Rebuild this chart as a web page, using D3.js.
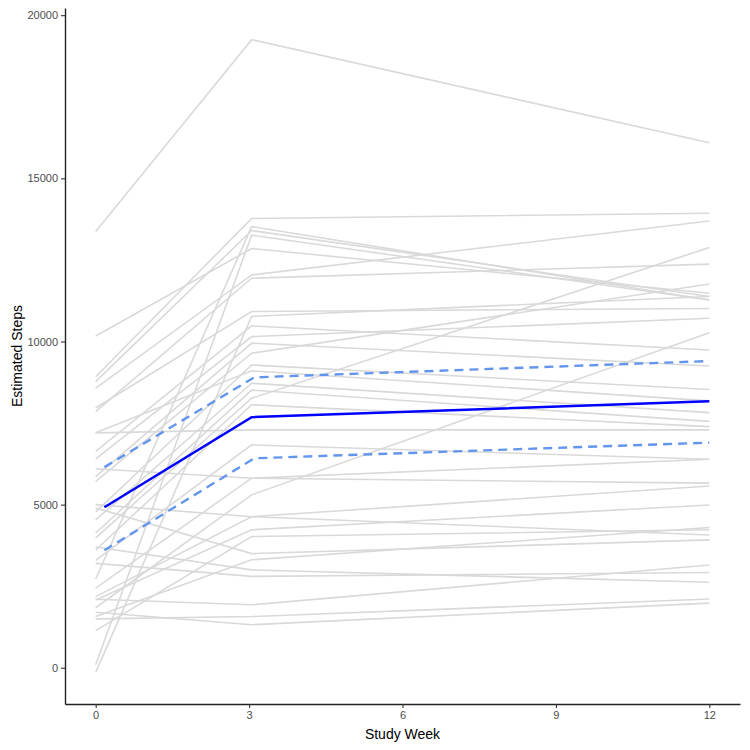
<!DOCTYPE html>
<html><head><meta charset="utf-8">
<script src="https://cdn.jsdelivr.net/npm/d3@7"></script>
<style>body{margin:0;background:#fff;} text{font-family:"Liberation Sans",Arial,sans-serif;}</style>
</head><body>
<svg id="c" width="750" height="750"></svg>
<script>
const subjWeeks = [0, 3.05, 12];
const meanWeeks = [0.17, 3.05, 12];
const ciWeeks = [0.17, 3.1, 12];
const subjects = [
  [13370, 19250, 16090],
  [10170, 12850, 11480],
  [8920, 13770, 13930],
  [8770, 13400, 11380],
  [8570, 12040, 13690],
  [7960, 10920, 11010],
  [7850, 11940, 12370],
  [7200, 7290, 7290],
  [6630, 10480, 9740],
  [6400, 10150, 10710],
  [5860, 9950, 9250],
  [5710, 9640, 11760],
  [4780, 9280, 8530],
  [4530, 8720, 7820],
  [4130, 8510, 7550],
  [3980, 8260, 12880],
  [3610, 8060, 7390],
  [3290, 6830, 6390],
  [2720, 13520, 11270],
  [2440, 5810, 5660],
  [2180, 4630, 5570],
  [2080, 4230, 4990],
  [1840, 5300, 10270],
  [1570, 3310, 4300],
  [1140, 4020, 4230],
  [90, 13260, 11270],
  [-140, 10770, 11380],
  [3700, 3000, 2620],
  [3200, 2800, 2920],
  [2100, 1930, 3150],
  [1500, 1570, 2110],
  [1700, 1320, 1980],
  [4900, 3500, 3920],
  [5000, 4630, 4070],
  [6100, 5810, 6390],
  [7200, 9100, 8180]
];
const meanSteps = [4920, 7680, 8170];
const upperCI = [6150, 8900, 9400];
const lowerCI = [3600, 6420, 6900];
const xTicks = [0, 3, 6, 9, 12];
const yTicks = [0, 5000, 10000, 15000, 20000];

const svg = d3.select("#c");
const x = d3.scaleLinear().domain([-0.6, 12.6]).range([65, 740]);
const y = d3.scaleLinear().domain([-1110, 20220]).range([704, 8]);
const line = d3.line().x(d => x(d[0])).y(d => y(d[1]));
const toPts = (ws, vals) => ws.map((w, i) => [w, vals[i]]);

const g = svg.append("g");
g.selectAll("path.subj").data(subjects).enter().append("path")
  .attr("class", "subj").attr("d", d => line(toPts(subjWeeks, d)))
  .attr("fill", "none").attr("stroke", "#D9D9D9").attr("stroke-width", 1.6);

[upperCI, lowerCI].forEach(s => {
  g.append("path").attr("d", line(toPts(ciWeeks, s))).attr("fill", "none")
    .attr("stroke", "#6495ED").attr("stroke-width", 2.4).attr("stroke-dasharray", "9,6");
});
g.append("path").attr("d", line(toPts(meanWeeks, meanSteps))).attr("fill", "none")
  .attr("stroke", "#0000FF").attr("stroke-width", 2.5);

const xAxis = svg.append("g").attr("transform", "translate(0,704)")
  .call(d3.axisBottom(x).tickValues(xTicks).tickFormat(d3.format("d")).tickSize(4).tickSizeOuter(0).tickPadding(3));
const yAxis = svg.append("g").attr("transform", "translate(65,0)")
  .call(d3.axisLeft(y).tickValues(yTicks).tickFormat(d3.format("d")).tickSize(4).tickSizeOuter(0).tickPadding(3));
[xAxis, yAxis].forEach(a => {
  a.select(".domain").attr("stroke", "#222").attr("stroke-width", 1.4);
  a.selectAll(".tick line").attr("stroke", "#333").attr("stroke-width", 1.1);
  a.selectAll(".tick text").attr("fill", "#4D4D4D").attr("font-size", 11)
    .style("font-family", "'Liberation Sans',Arial,sans-serif");
});

svg.append("text").attr("x", (65 + 740) / 2).attr("y", 739).attr("text-anchor", "middle")
  .attr("font-size", 14).attr("fill", "#000").text("Study Week");
svg.append("text").attr("transform", "translate(22,356) rotate(-90)").attr("text-anchor", "middle")
  .attr("font-size", 14).attr("fill", "#000").text("Estimated Steps");
</script>
</body></html>
